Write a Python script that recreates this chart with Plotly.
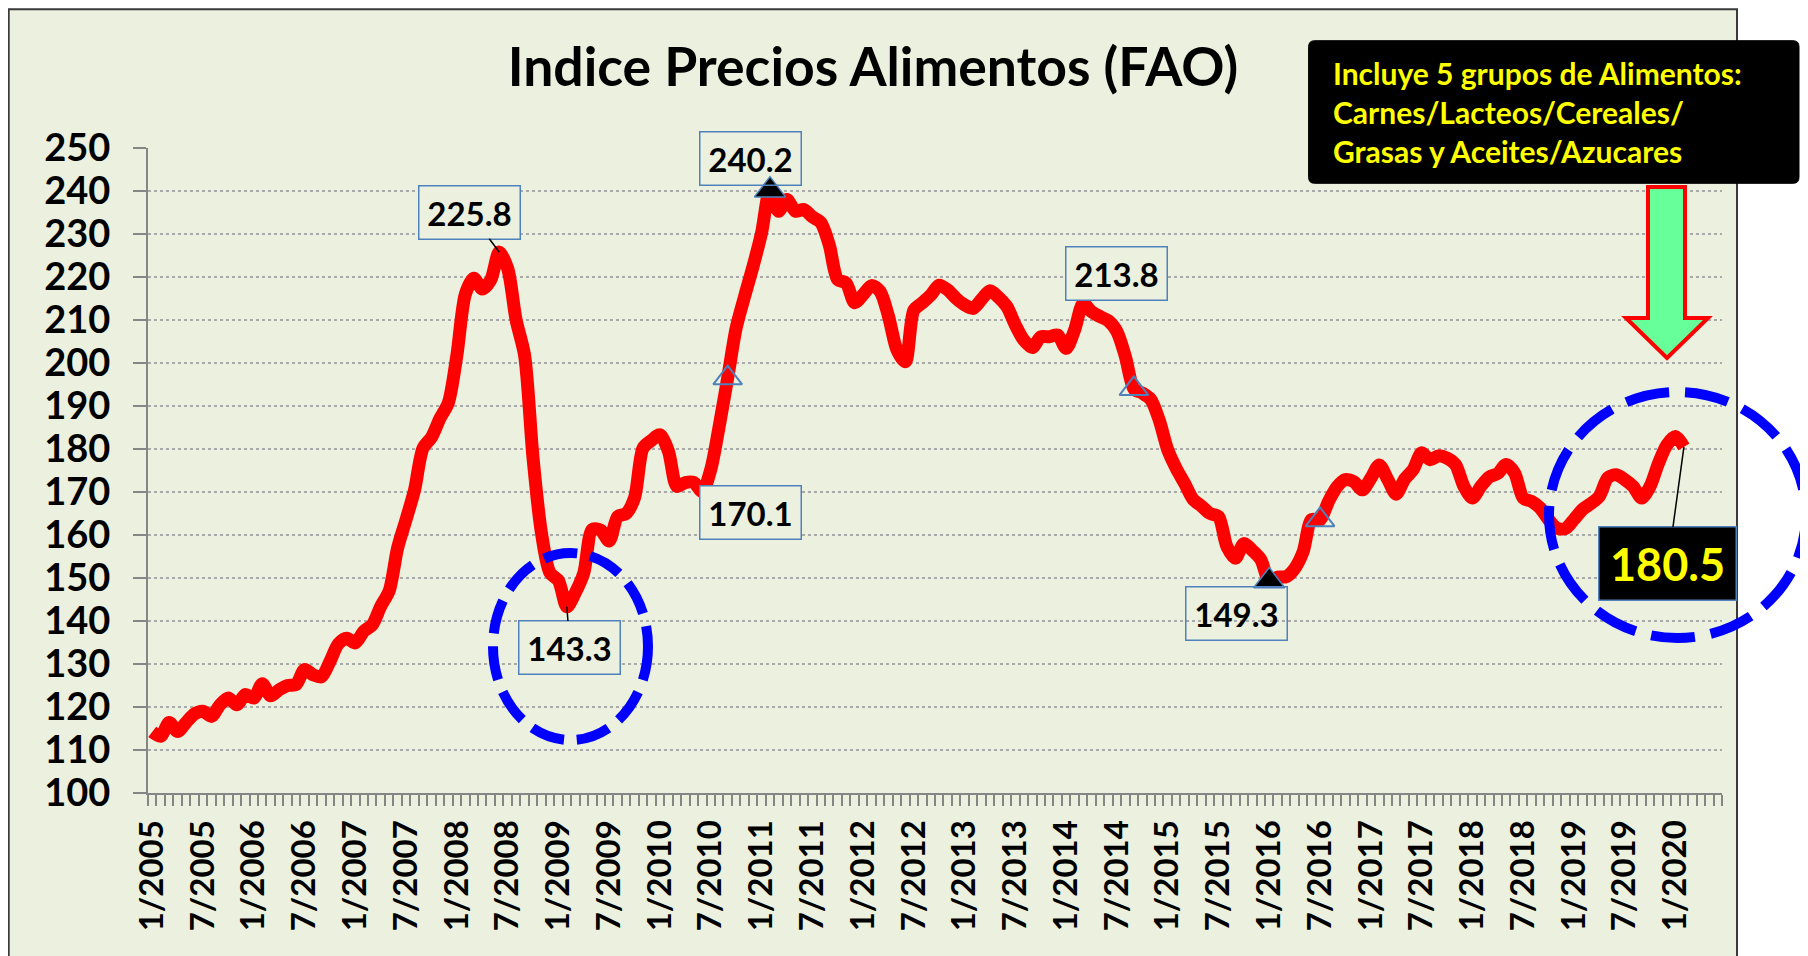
import plotly.graph_objects as go

# ---------------- data ----------------
years = list(range(2005, 2021))
# monthly categories on the axis: 1/2005 .. 6/2020
months = [f"{m}/{y}" for y in years for m in range(1, 13)][:186]

fao_2005 = [114.2, 113.2, 116.4, 114.3, 116.4, 118.4, 119.0, 117.8, 120.5, 122.1, 120.5, 122.9]
fao_2006 = [122.1, 125.4, 122.6, 124.0, 125.0, 125.2, 128.7, 127.5, 127.0, 130.6, 134.7, 136.0]
fao_2007 = [134.9, 137.6, 139.1, 143.4, 147.0, 157.0, 163.6, 170.5, 180.2, 182.7, 187.1, 190.8]
fao_2008 = [201.8, 216.0, 219.7, 217.2, 219.3, 225.8, 222.0, 210.0, 201.8, 177.9, 160.4, 151.2]
fao_2009 = [149.4, 143.3, 146.6, 151.2, 161.3, 161.1, 158.6, 164.3, 165.0, 168.7, 180.2, 182.0]
fao_2010 = [183.3, 179.5, 171.3, 172.2, 172.2, 170.1, 175.2, 185.3, 196.5, 208.1, 215.5, 222.5]
fao_2011 = [230.2, 240.2, 235.3, 238.0, 235.3, 235.7, 234.0, 232.7, 227.5, 219.4, 218.6, 214.0]
fao_2012 = [215.9, 218.0, 216.7, 210.9, 203.1, 200.3, 212.3, 214.0, 215.8, 218.1, 217.0, 215.0]
fao_2013 = [213.5, 212.7, 214.8, 216.8, 215.3, 213.1, 208.8, 205.3, 203.6, 206.1, 206.1, 206.5]
fao_2014 = [203.4, 207.7, 213.8, 211.9, 210.8, 209.8, 207.3, 201.5, 194.0, 193.0, 191.5, 186.7]
fao_2015 = [179.8, 175.5, 172.0, 168.3, 166.7, 165.0, 164.3, 157.3, 154.6, 158.0, 156.4, 154.3]
fao_2016 = [149.3, 150.2, 150.3, 152.2, 156.1, 163.6, 163.5, 167.8, 171.2, 172.9, 172.4, 170.5]
fao_2017 = [173.2, 176.3, 172.9, 169.5, 173.0, 175.2, 179.1, 177.5, 178.4, 177.9, 176.4, 171.3]
fao_2018 = [168.6, 171.3, 173.5, 174.3, 176.4, 174.4, 168.6, 167.8, 166.3, 163.6, 161.6, 161.5]
fao_2019 = [163.6, 165.9, 167.3, 169.0, 173.3, 174.0, 172.9, 171.3, 168.6, 171.3, 176.7, 181.0]
fao_2020 = [182.9, 180.5]

values = (fao_2005 + fao_2006 + fao_2007 + fao_2008 + fao_2009 + fao_2010 + fao_2011 +
          fao_2012 + fao_2013 + fao_2014 + fao_2015 + fao_2016 + fao_2017 + fao_2018 +
          fao_2019 + fao_2020)
data_months = months[:len(values)]

tick_labels = ["1/2005", "7/2005", "1/2006", "7/2006", "1/2007", "7/2007", "1/2008", "7/2008",
               "1/2009", "7/2009", "1/2010", "7/2010", "1/2011", "7/2011", "1/2012", "7/2012",
               "1/2013", "7/2013", "1/2014", "7/2014", "1/2015", "7/2015", "1/2016", "7/2016",
               "1/2017", "7/2017", "1/2018", "7/2018", "1/2019", "7/2019", "1/2020"]
y_ticks = list(range(100, 251, 10))

max_markers = ["2/2011", "1/2016"]            # filled black triangles
trend_markers = ["9/2010", "9/2014", "7/2016"]  # hollow triangles

title_text = "Indice Precios Alimentos (FAO)"
note_text = "Incluye 5 grupos de Alimentos:<br>Carnes/Lacteos/Cereales/<br>Grasas y Aceites/Azucares"

# ---------------- layout helpers ----------------
OFF = 8  # page body margin
W_FIG, H_FIG = 1800, 948
ML, MT = 140, 140
PW, PH = 1574, 645
MR, MB = W_FIG - ML - PW, H_FIG - MT - PH
BG = "#EBF1DE"


def px(xp):
    return (xp - OFF - ML) / PW


def py(yp):
    return 1 - (yp - OFF - MT) / PH


def val(m):
    return values[data_months.index(m)]


fig = go.Figure()

fig.add_trace(go.Scatter(
    x=data_months, y=values, mode="lines",
    line=dict(color="#FF0000", width=13, shape="spline", smoothing=0.8),
    hoverinfo="x+y", showlegend=False))

fig.add_trace(go.Scatter(
    x=trend_markers, y=[val(m) for m in trend_markers], mode="markers",
    marker=dict(symbol="triangle-up-open", size=25, color="#4F81BD", line=dict(width=2)),
    showlegend=False))

fig.add_trace(go.Scatter(
    x=max_markers, y=[val(m) for m in max_markers], mode="markers",
    marker=dict(symbol="triangle-up", size=27, color="#000000", line=dict(width=1.5, color="#4F81BD")),
    showlegend=False))

FONT = "Lato"
box_font = dict(family=FONT, size=33, color="black", weight="bold")
annotations = []


def label(month, dx, dy, arrow=False, big=False, clear=False):
    v = val(month)
    common = dict(x=month, y=v, xref="x", yref="y", text=f"{v:.1f}",
                  bordercolor="#4F81BD", borderwidth=1.5, borderpad=1)
    if big:
        common.update(font=dict(family=FONT, size=45, color="#FFFF00", weight="bold"),
                      bgcolor="#000000", width=134, height=70)
    else:
        common.update(font=box_font, bgcolor="rgba(0,0,0,0)" if clear else BG, width=98, height=50)
    if arrow:
        common.update(showarrow=True, ax=dx, ay=dy, axref="pixel", ayref="pixel",
                      arrowhead=0, arrowwidth=1.5, arrowcolor="black", standoff=0)
    else:
        common.update(showarrow=False, xshift=dx, yshift=-dy)
    annotations.append(common)


label("6/2008", -30, -40, arrow=True)
label("2/2009", 3, 41, arrow=True)
label("2/2011", -19, -32, clear=True)
label("6/2010", 48, 21)
label("3/2014", 33, -30)
label("1/2016", -33, 32, clear=True)
label("2/2020", -16, 117, arrow=True, big=True)

# note text in black box
annotations.append(dict(x=px(1331), y=py(112), xref="paper", yref="paper", xanchor="left",
                        yanchor="middle", align="left", showarrow=False, text=note_text,
                        font=dict(family=FONT, size=30, color="#FFFF00", weight="bold")))

shapes = []
# chart area frame
shapes.append(dict(type="rect", xref="paper", yref="paper", x0=px(8.7), x1=px(1737),
                   y0=py(975), y1=py(9.3), fillcolor=BG, line=dict(color="#3A3A3A", width=2),
                   layer="below"))
# black rounded note box
bx0, bx1, by0, by1, r = 1308.6, 1799, 40.7, 183.3, 6
path = (f"M {px(bx0 + r)},{py(by0)} L {px(bx1 - r)},{py(by0)} Q {px(bx1)},{py(by0)} {px(bx1)},{py(by0 + r)} "
        f"L {px(bx1)},{py(by1 - r)} Q {px(bx1)},{py(by1)} {px(bx1 - r)},{py(by1)} "
        f"L {px(bx0 + r)},{py(by1)} Q {px(bx0)},{py(by1)} {px(bx0)},{py(by1 - r)} "
        f"L {px(bx0)},{py(by0 + r)} Q {px(bx0)},{py(by0)} {px(bx0 + r)},{py(by0)} Z")
shapes.append(dict(type="path", xref="paper", yref="paper", path=path, fillcolor="#000000",
                   line=dict(color="#000000", width=1), layer="above"))
# green down arrow
ap = [(1648, 187), (1685, 187), (1685, 318), (1708, 318), (1667, 358), (1626, 318), (1648, 318)]
arrow_path = "M " + " L ".join(f"{px(a)},{py(b)}" for a, b in ap) + " Z"
shapes.append(dict(type="path", xref="paper", yref="paper", path=arrow_path, fillcolor="#66FF99",
                   line=dict(color="#FF0000", width=4), layer="above"))
# dashed blue circles
shapes.append(dict(type="circle", xref="paper", yref="paper", x0=px(493), x1=px(648),
                   y0=py(740), y1=py(553), line=dict(color="#0000FF", width=10, dash="34px,13px"),
                   layer="above"))
shapes.append(dict(type="circle", xref="paper", yref="paper", x0=px(1549), x1=px(1806),
                   y0=py(638), y1=py(392), line=dict(color="#0000FF", width=10, dash="44px,16px"),
                   layer="above"))

tickvals = months
ticktext = [m if m in tick_labels else "" for m in months]

fig.update_layout(
    width=W_FIG, height=H_FIG,
    margin=dict(l=ML, r=MR, t=MT, b=MB, autoexpand=False),
    paper_bgcolor="white", plot_bgcolor="rgba(0,0,0,0)",
    title=dict(text=title_text, x=px(873), xref="paper", xanchor="center",
               y=1 - (67 - OFF) / H_FIG, yref="container", yanchor="middle",
               font=dict(family=FONT, size=53.5, color="black", weight="bold")),
    xaxis=dict(type="category", categoryorder="array", categoryarray=months,
               range=[-0.5, len(months) - 0.5], tickmode="array", tickvals=tickvals,
               ticktext=ticktext, tickson="boundaries", ticks="outside", ticklen=11,
               tickwidth=1.5, tickcolor="#868686", tickangle=-90, showgrid=False,
               showline=True, linecolor="#868686", linewidth=2, ticklabelstandoff=12,
               tickfont=dict(family=FONT, size=33, color="black", weight="bold"),
               automargin=False, zeroline=False),
    yaxis=dict(range=[100, 250], tickmode="array", tickvals=y_ticks, ticks="outside",
               ticklen=13, tickwidth=2, tickcolor="#868686", showline=True,
               linecolor="#868686", linewidth=2, showgrid=True, gridcolor="#A9A9A9",
               griddash="dot", gridwidth=1.5, zeroline=False, ticklabelstandoff=15,
               tickfont=dict(family=FONT, size=38, color="black", weight="bold"),
               automargin=False),
    annotations=annotations, shapes=shapes,
)

fig.write_html("out.html")
